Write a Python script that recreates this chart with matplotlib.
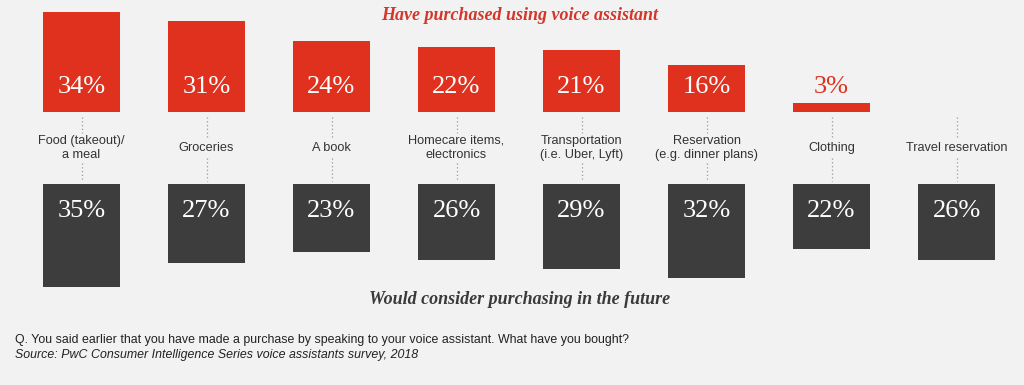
import matplotlib
matplotlib.use("Agg")
import matplotlib.pyplot as plt
import matplotlib.transforms as mtransforms

categories = ["Food (takeout)/\na meal", "Groceries", "A book", "Homecare items,\nelectronics",
              "Transportation\n(i.e. Uber, Lyft)", "Reservation\n(e.g. dinner plans)", "Clothing",
              "Travel reservation"]
purchased = [34, 31, 24, 22, 21, 16, 3, None]
would_consider = [35, 27, 23, 26, 29, 32, 22, 26]

title_top = "Have purchased using voice assistant"
title_bottom = "Would consider purchasing in the future"
note_q = "Q. You said earlier that you have made a purchase by speaking to your voice assistant. What have you bought?"
note_src = "Source: PwC Consumer Intelligence Series voice assistants survey, 2018"

BG = "#f2f2f2"
RED = "#e0301e"
DARK = "#3d3d3d"
W, H = 1024, 385
PX_PER_PCT = 2.94

fig = plt.figure(figsize=(W / 100, H / 100), dpi=100, facecolor=BG)

x = list(range(len(categories)))
xlim = (-81.5 / 125, (W - 81.5) / 125)
bw = 77 / 125

# top axes: baseline at y=112 px from top
base_top = 112
ax1 = fig.add_axes([0, 1 - base_top / H, 1, base_top / H])
ax1.set_xlim(*xlim)
ax1.set_ylim(0, base_top / PX_PER_PCT)
ax1.axis("off")
for xi, v in zip(x, purchased):
    if v is None:
        continue
    ax1.bar(xi, v, width=bw, color=RED, align="center")
    col = "white" if v > 10 else RED
    ax1.text(xi, 25 / PX_PER_PCT, f"{v}%", ha="center", va="center", color=col,
             fontsize=19, family="Liberation Serif")

# bottom axes: top at y=184 px
top_bot = 184
h_bot = 120
ax2 = fig.add_axes([0, 1 - (top_bot + h_bot) / H, 1, h_bot / H])
ax2.set_xlim(*xlim)
ax2.set_ylim(h_bot / PX_PER_PCT, 0)
ax2.axis("off")
for xi, v in zip(x, would_consider):
    ax2.bar(xi, v, width=bw, color=DARK, align="center")
    ax2.text(xi, 27 / PX_PER_PCT, f"{v}%", ha="center", va="center", color="white",
             fontsize=19, family="Liberation Serif")

# category labels and dotted connectors
trans = mtransforms.blended_transform_factory(ax1.transData, fig.transFigure)
for xi, lab in zip(x, categories):
    fig.text(xi, 1 - 148 / H, lab, transform=trans, ha="center", va="center",
             fontsize=9.2, color="#333333", family="Liberation Sans", linespacing=1.3)
    two = "\n" in lab
    y1a, y1b = 117, (133 if two else 137)
    y2a, y2b = (163 if two else 158), 181
    for a, b in ((y1a, y1b), (y2a, y2b)):
        fig.lines.append(plt.Line2D([xi, xi], [1 - a / H, 1 - b / H], transform=trans,
                                    color="#9a9a9a", lw=0.9, ls=(0, (1, 2))))

fig.text(520 / W, 1 - 15 / H, title_top, ha="center", va="center", color="#d3372a",
         fontsize=13, family="Liberation Serif", style="italic", weight="bold")
fig.text(520 / W, 1 - 300 / H, title_bottom, ha="center", va="center", color="#3a3a3a",
         fontsize=13, family="Liberation Serif", style="italic", weight="bold")
fig.text(15 / W, 1 - 340 / H, note_q, ha="left", va="center", color="#222222",
         fontsize=8.95, family="Liberation Sans")
fig.text(15 / W, 1 - 355 / H, note_src, ha="left", va="center", color="#222222",
         fontsize=8.95, family="Liberation Sans", style="italic")

fig.savefig("out.png", dpi=100, facecolor=BG)
